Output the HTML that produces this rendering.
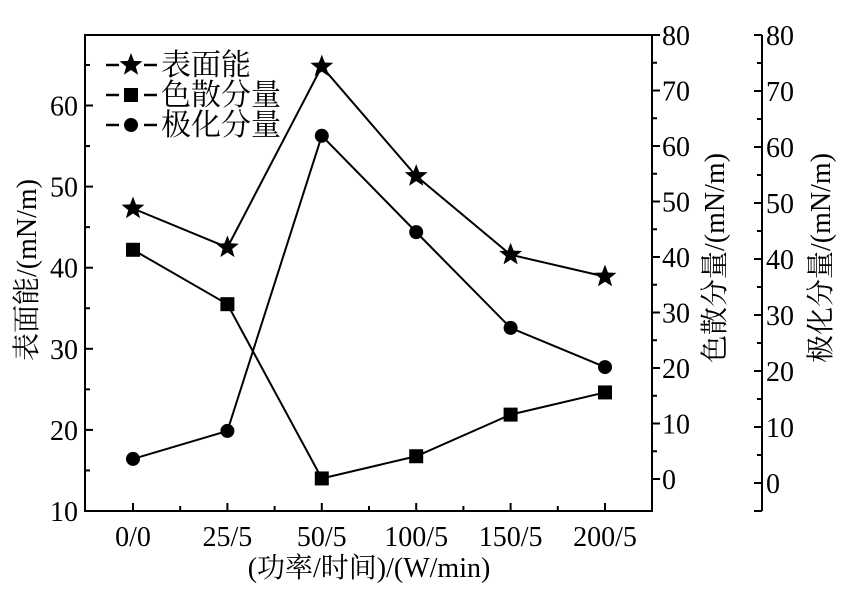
<!DOCTYPE html>
<html><head><meta charset="utf-8"><style>
body{margin:0;background:#fff}
svg text{font-family:"Liberation Serif","Noto Serif CJK SC",serif;fill:#000}
</style></head><body>
<svg id="chart" width="841" height="590" viewBox="0 0 841 590" xmlns="http://www.w3.org/2000/svg"></svg>
<script>
const categories=["0/0","25/5","50/5","100/5","150/5","200/5"];
const surfaceEnergy=[47.3,42.5,64.8,51.3,41.6,38.9];
const dispersive=[41.3,31.5,0.1,4.1,11.6,15.6];
const polar=[4.3,9.3,62.0,44.8,27.7,20.7];
const leftTicks=[10,20,30,40,50,60];
const rightTicks=[0,10,20,30,40,50,60,70,80];

const NS="http://www.w3.org/2000/svg";
const svg=document.getElementById('chart');
function el(t,a,p){const e=document.createElementNS(NS,t);for(const k in a)e.setAttribute(k,a[k]);(p||svg).appendChild(e);return e;}
const L=85,R=652,T=35,B=511;
const FS=28;
const xS=i=>133+i*94.4;
const yL=v=>511-(v-10)*8.11;
const yR1=v=>479-v*5.55;
const yR2=v=>483-v*5.6;

const fr=el('rect',{x:L,y:T,width:R-L,height:B-T,fill:'none',stroke:'#000','stroke-width':2});



for(let v=10;v<=65;v+=5){const y=yL(v);const mj=v%10===0;
 el('line',{x1:L,x2:L+(mj?8:5),y1:y,y2:y,stroke:'#000','stroke-width':2});}
leftTicks.forEach(v=>{const t=el('text',{x:L-7,y:yL(v)+10,'text-anchor':'end','font-size':FS});t.textContent=v;
 
 });
categories.forEach((c,i)=>{el('line',{x1:xS(i),x2:xS(i),y1:B,y2:B-8,stroke:'#000','stroke-width':2});
 if(i<categories.length-1)el('line',{x1:xS(i)+47.2,x2:xS(i)+47.2,y1:B,y2:B-5,stroke:'#000','stroke-width':2});
 const t=el('text',{x:xS(i),y:B+35,'text-anchor':'middle','font-size':FS});t.textContent=c;
 
 });
for(let v=0;v<=80;v+=5){const y=yR1(v);el('line',{x1:R,x2:R+(v%10===0?8:5),y1:y,y2:y,stroke:'#000','stroke-width':2});}
rightTicks.forEach(v=>{const t=el('text',{x:R+10,y:yR1(v)+10,'font-size':FS});t.textContent=v;
 
 });
const A2=762;
const ax2=el('line',{x1:A2,x2:A2,y1:T,y2:B,stroke:'#000','stroke-width':2});


el('line',{x1:A2,x2:A2-8,y1:B,y2:B,stroke:'#000','stroke-width':2});
for(let v=0;v<=80;v+=5){const y=yR2(v);el('line',{x1:A2,x2:A2-(v%10===0?8:5),y1:y,y2:y,stroke:'#000','stroke-width':2});}
rightTicks.forEach(v=>{const t=el('text',{x:A2+4,y:yR2(v)+10,'font-size':FS});t.textContent=v;
 
 });

function title(txt,x,y,rot,name){const t=el('text',{x:x,y:y,'text-anchor':'middle','font-size':FS,transform:rot?`rotate(-90 ${x} ${y})`:''});t.textContent=txt;
 
 }
title('表面能/(mN/m)',36,270,true,'y-axis-title');
title('色散分量/(mN/m)',724,258,true,'dispersive-axis-title');
title('极化分量/(mN/m)',830,258,true,'polar-axis-title');
title('(功率/时间)/(W/min)',369,577,false,'x-axis-title');

function star(x,y,r){let p=[];for(let k=0;k<10;k++){const rr=k%2?r*0.42:r;const a=-Math.PI/2+k*Math.PI/5;p.push((x+rr*Math.cos(a)).toFixed(1)+','+(y+rr*Math.sin(a)).toFixed(1));}return p.join(' ');}
function marker(type,x,y,g){
 if(type==='star')return el('polygon',{points:star(x,y,12),fill:'#000'},g);
 if(type==='square')return el('rect',{x:x-7,y:y-7,width:14,height:14,fill:'#000'},g);
 return el('circle',{cx:x,cy:y,r:7,fill:'#000'},g);}
function series(vals,ys,type,name){
 const g=el('g',{});
 el('polyline',{points:vals.map((v,i)=>xS(i)+','+ys(v)).join(' '),fill:'none',stroke:'#000','stroke-width':2},g);
 vals.forEach((v,i)=>{const m=marker(type,xS(i),ys(v),g);
  
  });}
series(surfaceEnergy,yL,'star','surface-energy-series');
series(dispersive,yR1,'square','dispersive-series');
series(polar,yR2,'circle','polar-series');

const leg=[['表面能','star'],['色散分量','square'],['极化分量','circle']];
leg.forEach((l,i)=>{const y=65+i*30;const g=el('g',{});
 
 
 el('line',{x1:106,x2:119,y1:y,y2:y,stroke:'#000','stroke-width':2.5},g);
 el('line',{x1:144,x2:157,y1:y,y2:y,stroke:'#000','stroke-width':2.5},g);
 marker(l[1],131,y,g);
 const t=el('text',{x:161,y:y+10,'font-size':30},g);t.textContent=l[0];});
</script>
</body></html>
